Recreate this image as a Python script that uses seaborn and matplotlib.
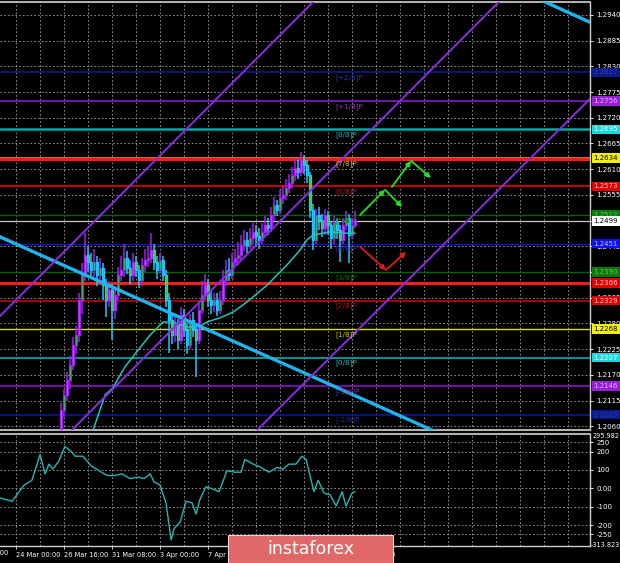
import numpy as np
import matplotlib
matplotlib.use("Agg")
import matplotlib.pyplot as plt
import matplotlib.transforms as mtransforms
from matplotlib.patches import Rectangle
import seaborn as sns

sns.set_theme(style="dark")
plt.rcParams["font.family"] = ["DejaVu Sans"]

# ---- H4 candles (index of first candle = 16) ----
first_idx = 16
first_open = 1.2031
close = [1.2095, 1.2127, 1.2159, 1.2191, 1.2234, 1.2255, 1.2330, 1.2384, 1.2426, 1.2411,
         1.2394, 1.2411, 1.2384, 1.2399, 1.2362, 1.2330, 1.2352, 1.2309, 1.2341, 1.2384,
         1.2394, 1.2420, 1.2399, 1.2384, 1.2411, 1.2394, 1.2373, 1.2405, 1.2416, 1.2420,
         1.2437, 1.2411, 1.2394, 1.2416, 1.2384, 1.2330, 1.2287, 1.2255, 1.2277, 1.2245,
         1.2298, 1.2266, 1.2234, 1.2287, 1.2266, 1.2245, 1.2309, 1.2341, 1.2362, 1.2330,
         1.2319, 1.2330, 1.2309, 1.2330, 1.2373, 1.2394, 1.2384, 1.2411, 1.2420, 1.2426,
         1.2448, 1.2459, 1.2448, 1.2463, 1.2476, 1.2467, 1.2459, 1.2476, 1.2491, 1.2484,
         1.2512, 1.2533, 1.2523, 1.2548, 1.2555, 1.2570, 1.2580, 1.2598, 1.2613, 1.2604,
         1.2630, 1.2619, 1.2598, 1.2523, 1.2459, 1.2512, 1.2501, 1.2484, 1.2512, 1.2491,
         1.2463, 1.2497, 1.2480, 1.2459, 1.2491, 1.2506, 1.2469, 1.2491, 1.2501]
high = [1.2110, 1.2140, 1.2175, 1.2210, 1.2250, 1.2275, 1.2345, 1.2410, 1.2473, 1.2445,
        1.2430, 1.2440, 1.2425, 1.2420, 1.2410, 1.2375, 1.2370, 1.2365, 1.2360, 1.2400,
        1.2425, 1.2450, 1.2435, 1.2415, 1.2430, 1.2425, 1.2405, 1.2420, 1.2440, 1.2445,
        1.2473, 1.2450, 1.2425, 1.2430, 1.2425, 1.2395, 1.2345, 1.2300, 1.2300, 1.2290,
        1.2315, 1.2310, 1.2280, 1.2300, 1.2305, 1.2280, 1.2325, 1.2370, 1.2385, 1.2375,
        1.2350, 1.2345, 1.2345, 1.2350, 1.2395, 1.2415, 1.2420, 1.2430, 1.2440, 1.2455,
        1.2470, 1.2480, 1.2475, 1.2485, 1.2495, 1.2490, 1.2485, 1.2495, 1.2510, 1.2505,
        1.2530, 1.2550, 1.2545, 1.2565, 1.2575, 1.2590, 1.2600, 1.2615, 1.2635, 1.2630,
        1.2647, 1.2640, 1.2630, 1.2605, 1.2535, 1.2525, 1.2530, 1.2515, 1.2525, 1.2520,
        1.2500, 1.2510, 1.2505, 1.2490, 1.2505, 1.2520, 1.2515, 1.2505, 1.2520]
low = [1.2010, 1.2080, 1.2115, 1.2140, 1.2180, 1.2215, 1.2240, 1.2300, 1.2370, 1.2390,
       1.2375, 1.2380, 1.2360, 1.2370, 1.2330, 1.2294, 1.2315, 1.2245, 1.2290, 1.2330,
       1.2370, 1.2380, 1.2385, 1.2365, 1.2370, 1.2380, 1.2355, 1.2360, 1.2390, 1.2400,
       1.2410, 1.2395, 1.2375, 1.2385, 1.2370, 1.2315, 1.2217, 1.2235, 1.2240, 1.2225,
       1.2235, 1.2250, 1.2215, 1.2225, 1.2250, 1.2165, 1.2235, 1.2300, 1.2330, 1.2315,
       1.2300, 1.2305, 1.2295, 1.2300, 1.2320, 1.2360, 1.2370, 1.2375, 1.2400, 1.2405,
       1.2415, 1.2435, 1.2430, 1.2440, 1.2450, 1.2445, 1.2440, 1.2450, 1.2465, 1.2470,
       1.2475, 1.2500, 1.2510, 1.2515, 1.2535, 1.2545, 1.2560, 1.2570, 1.2585, 1.2590,
       1.2595, 1.2600, 1.2580, 1.2505, 1.2437, 1.2450, 1.2480, 1.2465, 1.2470, 1.2470,
       1.2440, 1.2450, 1.2460, 1.2411, 1.2450, 1.2480, 1.2409, 1.2460, 1.2485]

# moving average (cyan line on price)
ma_x = [22, 26.7, 30.7, 33.3, 37.3, 41.7, 45.7, 50, 53.3, 58, 62.3, 64.7, 69, 73.3,
        78, 84.7, 91.3, 95.7, 98, 100, 105.7, 111.3, 114]
ma_val = [1.1980, 1.2052, 1.2127, 1.2142, 1.2187, 1.2223, 1.2255, 1.2283, 1.2283, 1.2272,
          1.2274, 1.2283, 1.2292, 1.2304, 1.2326, 1.2362, 1.2405, 1.2437, 1.2459, 1.2469,
          1.2476, 1.2473, 1.2473]

# CCI (lower window)
cci_x = [-4.3, -0.3, 3.7, 6.3, 9, 10.7, 12, 13.3, 15.3, 17.3, 19.3, 20.7, 23.3, 26,
         28.7, 31.3, 34, 36.3, 39, 41.7, 43.7, 45.7, 47, 49, 51, 52.7, 53.7, 55.7, 57.7,
         59.7, 61, 62.3, 64.3, 66, 68.7, 71.3, 74, 76, 77.3, 80, 82.7, 85.3, 88, 90, 92,
         94.3, 96.3, 97.7, 100.3, 101.7, 103.7, 105.7, 107.7, 109.7, 111, 113, 114]
cci_val = [-53, -70, 18, 44, 184, 79, 132, 105, 149, 228, 202, 175, 175, 123,
           96, 70, 70, 79, 53, 61, 53, 79, 35, 18, -79, -281, -219, -184, -70,
           -79, -140, -61, 9, 0, -18, 96, 88, 88, 158, 132, 114, 88, 114, 105, 132,
           132, 175, 158, -18, 44, -26, -35, -96, -18, -96, -26, -18]

# Murrey math levels
murrey_prices = [1.2817, 1.2756, 1.2695, 1.2634, 1.2573, 1.2512, 1.2451, 1.2390,
                 1.2329, 1.2268, 1.2207, 1.2146, 1.2085]
murrey_names = ["[+2/8]P", "[+1/8]P", "[8/8]P", "[7/8]P", "[6/8]P", "[5/8]P", "[4/8]P",
                "[3/8]P", "[2/8]P", "[1/8]P", "[0/8]P", "[-1/8]P", "[-2/8]P"]
red_levels = [1.2631, 1.2366]
bid_price = 1.2499

# trend lines (anchor points: candle index, price)
blue_x = [-6, 150]
blue_y = [1.2470, 1.2022]
blue2_x = [170, 196]
blue2_y = [1.2989, 1.2914]
chan_x = [[-6, 105], [15, 170], [75, 196]]
chan_y = [[1.2285, 1.3000], [1.2022, 1.3020], [1.2011, 1.2784]]

# forecast arrows
green1 = ([115.7, 124.0, 129.7], [1.2512, 1.2566, 1.2529])
green2 = ([126.3, 132.7, 139.3], [1.2572, 1.2628, 1.2591])
red1 = ([115.7, 124.3, 131.0], [1.2444, 1.2394, 1.2433])

price_ticks = [1.2940, 1.2885, 1.2830, 1.2775, 1.2720, 1.2665, 1.2610, 1.2555, 1.2500,
               1.2445, 1.2390, 1.2335, 1.2280, 1.2225, 1.2170, 1.2115, 1.2060]
cci_ticks = [250, 200, 100, 0, -100, -200, -250]
cci_tick_text = ["250", "200", "100", "0.00", "-100", "-200", "-250"]
time_pos = [-16.3, 1, 17, 33, 49, 65, 81, 97, 113]
time_text = ["19 Mar 08:00", "24 Mar 00:00", "26 Mar 16:00", "31 Mar 08:00", "3 Apr 00:00",
             "7 Apr 16:00", "10 Apr 08:00", "15 Apr 00:00", "17 Apr 16:00"]

# ---- styles ----
BG = "black"
GRID = "#a0a0a0"
FG = "white"
level_style = {
    "[+2/8]P": ("#0d1a8a", 1.2, "#2a3aa0", "#0d1a8a", "#2a3ab0"),
    "[+1/8]P": ("#8a1ad0", 1.2, "#8a3ab0", "#9a20d8", "#e0b0ff"),
    "[8/8]P": ("#00a8a8", 1.8, "#20b0b0", "#1ad8e0", "white"),
    "[7/8]P": ("#ffa500", 1.8, "#d8c400", "#f0f000", "black"),
    "[6/8]P": ("#c80000", 1.4, "#c01010", "#e00000", "#ffd0d0"),
    "[5/8]P": ("#006400", 1.0, "#008a00", "#0a7a0a", "#60c060"),
    "[4/8]P": ("#1010c8", 1.0, "#3030d8", "#1010f0", "#c0c0ff"),
    "[3/8]P": ("#006400", 1.0, "#007a00", "#0a7a0a", "#60c060"),
    "[2/8]P": ("#c00000", 1.2, "#c01010", "#e00000", "#ffd0d0"),
    "[1/8]P": ("#e0e000", 1.0, "#c8c800", "#f0f000", "black"),
    "[0/8]P": ("#00b0b0", 1.2, "#20b0b0", "#1ad8e0", "white"),
    "[-1/8]P": ("#8a10c8", 1.2, "#8030b0", "#9a20d8", "#e0b0ff"),
    "[-2/8]P": ("#0d1a8a", 1.2, "#202a90", "#0d1a8a", "#2a3ab0"),
}

fig = plt.figure(figsize=(6.2, 5.63), dpi=100, facecolor=BG)
W, H = 620.0, 563.0
ax = fig.add_axes([0, 1 - 430 / H, 590 / W, 428 / H], facecolor=BG)
ax2 = fig.add_axes([0, 1 - 546 / H, 590 / W, 112 / H], facecolor=BG)

xmin, xmax = -4.33, 192.33
for a in (ax, ax2):
    a.set_xlim(xmin, xmax)
    grid_x = np.arange(1, 200, 8)
    for gx in grid_x:
        a.axvline(gx, color=GRID, lw=0.6, ls=(0, (2, 2.5)), zorder=0)
    a.spines["left"].set_visible(False)
    a.spines["right"].set_color("#d0d0d0")
    a.spines["right"].set_linewidth(1)
    a.yaxis.tick_right()
    a.tick_params(axis="y", colors=FG, labelsize=5, length=2.5, width=0.6, pad=2,
                  right=True, left=False)

ax.set_ylim(1.20519, 1.29678)
for p in price_ticks:
    ax.axhline(p, color=GRID, lw=0.6, ls=(0, (2, 2.5)), zorder=0)
ax.set_yticks(price_ticks)
ax.set_yticklabels([f"{p:.4f}" for p in price_ticks])
ax.set_xticks([])
ax.spines["top"].set_color("#b0b0b0")
ax.spines["top"].set_linewidth(1.5)
ax.spines["bottom"].set_color("#b0b0b0")
ax.spines["bottom"].set_linewidth(1.5)

# levels
for name, price in zip(murrey_names, murrey_prices):
    lc, lw, tc, bc, btc = level_style[name]
    ax.axhline(price, color=lc, lw=lw, zorder=1)
for price in red_levels:
    ax.axhline(price, color="#ff1a1a", lw=2.2, zorder=1)
ax.axhline(bid_price, color="#c8c8c8", lw=0.9, zorder=1)

# candles
n = len(close)
x = np.arange(first_idx, first_idx + n)
opn = np.array([first_open] + close[:-1])
cls = np.array(close)
up = cls >= opn
bar_col = np.where(up, "#a020f0", "#1ec8ff")
ax.vlines(x, low, high, colors=bar_col, lw=1.1, zorder=3)
ax.bar(x, np.abs(cls - opn), bottom=np.minimum(opn, cls), width=0.7,
       color="#2ed12e", edgecolor=bar_col, linewidth=0.9, zorder=4)

# moving average
sns.lineplot(x=ma_x, y=ma_val, ax=ax, color="#22c4bc", lw=1.1, zorder=5)

# trend lines
sns.lineplot(x=blue_x, y=blue_y, ax=ax, color="#1eb4ee", lw=2.4, zorder=6)
sns.lineplot(x=blue2_x, y=blue2_y, ax=ax, color="#1eb4ee", lw=2.4, zorder=6)
for cx, cy in zip(chan_x, chan_y):
    sns.lineplot(x=cx, y=cy, ax=ax, color="#8a2be2", lw=1.4, zorder=6)

# arrows
for (axs, ays), col in [(green1, "#22e022"), (green2, "#22e022"), (red1, "#e01a1a")]:
    for k in range(2):
        ax.annotate("", xy=(axs[k + 1], ays[k + 1]), xytext=(axs[k], ays[k]),
                    arrowprops=dict(arrowstyle="-|>", color=col, lw=1.3,
                                    mutation_scale=7, shrinkA=0, shrinkB=0), zorder=7)

# murrey labels
for name, price in zip(murrey_names, murrey_prices):
    lc, lw, tc, bc, btc = level_style[name]
    ax.text(107.3, price - 0.0004, name, color=tc, fontsize=5.2, ha="left", va="top",
            zorder=8)

# right side price boxes
trans = mtransforms.blended_transform_factory(ax.transAxes, ax.transData)
for price, name in zip(murrey_prices, murrey_names):
    lc, lw, tc, bc, btc = level_style[name]
    ax.text(1.006, price, f"{price:.4f}", transform=trans, color=btc, fontsize=5,
            ha="left", va="center", clip_on=False, zorder=10,
            bbox=dict(boxstyle="square,pad=0.25", fc=bc, ec="none"))
for price in red_levels[1:]:
    ax.text(1.006, price, f"{price:.4f}", transform=trans, color="#ffd0d0", fontsize=5,
            ha="left", va="center", clip_on=False, zorder=10,
            bbox=dict(boxstyle="square,pad=0.25", fc="#e00000", ec="none"))
ax.text(1.006, bid_price, f"{bid_price:.4f}", transform=trans, color="black", fontsize=5,
        ha="left", va="center", clip_on=False, zorder=11,
        bbox=dict(boxstyle="square,pad=0.25", fc="white", ec="none"))

# ---- CCI window ----
ax2.set_ylim(-313.823, 295.982)
for v in cci_ticks:
    ax2.axhline(v, color=GRID, lw=0.6, ls=(0, (2, 2.5)), zorder=0)
sns.lineplot(x=cci_x, y=cci_val, ax=ax2, color="#20b8b0", lw=1.0, zorder=3)
ax2.set_yticks(cci_ticks)
ax2.set_yticklabels(cci_tick_text)
ax2.text(1.004, 0.985, "295.982", transform=ax2.transAxes, color=FG, fontsize=4.7,
         ha="left", va="center", clip_on=False)
ax2.text(1.002, 0.005, "-313.823", transform=ax2.transAxes, color=FG, fontsize=4.7,
         ha="left", va="center", clip_on=False)
ax2.spines["top"].set_color("#b0b0b0")
ax2.spines["top"].set_linewidth(1.5)
ax2.spines["bottom"].set_color("#d0d0d0")
ax2.spines["bottom"].set_linewidth(1)
ax2.set_xticks(time_pos[1:])
ax2.set_xticklabels(time_text[1:], ha="left")
ax2.tick_params(axis="x", colors=FG, labelsize=4.8, length=2.5, width=0.6, pad=2,
                bottom=True)
xtrans = mtransforms.blended_transform_factory(ax2.transData, ax2.transAxes)
ax2.text(time_pos[0], -0.035, time_text[0], transform=xtrans, color=FG, fontsize=4.8,
         ha="left", va="top", clip_on=False)
ax2.set_xlabel("")
ax2.set_ylabel("")
ax.set_xlabel("")
ax.set_ylabel("")

# watermark
fig.patches.append(Rectangle((228 / W, 0), 165 / W, 28 / H, transform=fig.transFigure,
                             facecolor="#e06868", edgecolor="#f0d0d0", lw=0.8,
                             zorder=20))
fig.text(310.5 / W, 14 / H, "instaforex", color="white", fontsize=12.5, ha="center",
         va="center", zorder=21)

fig.savefig("out.png", dpi=100, facecolor=BG)
